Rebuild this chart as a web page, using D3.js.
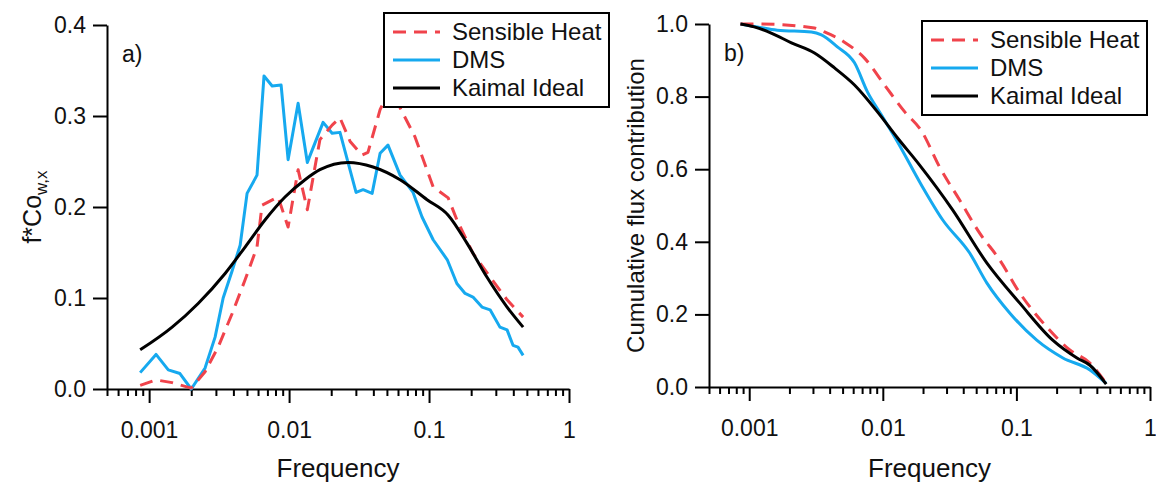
<!DOCTYPE html>
<html>
<head>
<meta charset="utf-8">
<script src="https://cdn.jsdelivr.net/npm/d3@7"></script>
<style>
body { margin: 0; background: #fff; }
svg { display: block; font-family: "Liberation Sans", Arial, sans-serif; }
</style>
</head>
<body>
<svg width="1156" height="484"></svg>
<script>
"use strict";

// panel a) co-spectra
var specFreqDMS = [0.000863, 0.00112, 0.00137, 0.00166, 0.00200, 0.00251, 0.00296, 0.00338, 0.00392, 0.00447,
    0.00501, 0.00590, 0.00662, 0.00757, 0.00877, 0.00984, 0.0116, 0.0135, 0.0175, 0.0203,
    0.0231, 0.0301, 0.0338, 0.0392, 0.0447, 0.0509, 0.0621, 0.0769, 0.0891, 0.107,
    0.135, 0.158, 0.181, 0.206, 0.239, 0.273, 0.321, 0.361, 0.398, 0.432, 0.47];
var specDMS = [0.018, 0.038, 0.021, 0.017, 0.0, 0.023, 0.057, 0.10, 0.13, 0.158,
    0.215, 0.235, 0.344, 0.333, 0.334, 0.252, 0.314, 0.249, 0.293, 0.281,
    0.282, 0.216, 0.219, 0.215, 0.259, 0.268, 0.235, 0.216, 0.189, 0.164,
    0.142, 0.116, 0.105, 0.101, 0.09, 0.087, 0.068, 0.065, 0.048, 0.046, 0.037];

var specFreqSH = [0.000863, 0.00112, 0.00146, 0.00200, 0.00251, 0.00311, 0.00392, 0.00485, 0.00590, 0.00641,
    0.00834, 0.00984, 0.0116, 0.0135, 0.0166, 0.0203, 0.0231, 0.0273, 0.0332, 0.0366,
    0.0447, 0.0526, 0.0621, 0.0794, 0.107, 0.137, 0.158, 0.206, 0.273, 0.361, 0.47];
var specSH = [0.004, 0.01, 0.007, 0.001, 0.019, 0.046, 0.083, 0.12, 0.156, 0.202,
    0.211, 0.178, 0.241, 0.197, 0.274, 0.29, 0.298, 0.272, 0.257, 0.26,
    0.307, 0.33, 0.309, 0.277, 0.222, 0.21, 0.186, 0.149, 0.123, 0.098, 0.079];

var specFreqKaimal = [0.000863, 0.00146, 0.00224, 0.00349, 0.00485, 0.00675, 0.00935, 0.0130, 0.0166, 0.0264,
    0.0398, 0.0621, 0.0968, 0.137, 0.187, 0.259, 0.361, 0.47];
var specKaimal = [0.043, 0.068, 0.094, 0.127, 0.156, 0.186, 0.211, 0.23, 0.241, 0.249,
    0.244, 0.23, 0.208, 0.191, 0.16, 0.123, 0.09, 0.068];

// panel b) cumulative flux
var cumFreqDMS = [0.00086, 0.00115, 0.00162, 0.00292, 0.00347, 0.00457, 0.00614, 0.00767, 0.00977, 0.0129,
    0.0192, 0.0281, 0.0447, 0.0600, 0.0891, 0.142, 0.223, 0.355, 0.47];
var cumDMS = [1.0, 0.992, 0.983, 0.978, 0.97, 0.937, 0.893, 0.813, 0.749, 0.675,
    0.56, 0.46, 0.369, 0.287, 0.204, 0.129, 0.08, 0.047, 0.01];

var cumFreqSH = [0.00086, 0.00123, 0.00308, 0.00366, 0.00516, 0.00729, 0.0103, 0.0146, 0.0195, 0.0266,
    0.0376, 0.0531, 0.0750, 0.106, 0.169, 0.251, 0.355, 0.47];
var cumSH = [1.0, 1.0, 0.989, 0.978, 0.95, 0.906, 0.832, 0.758, 0.705, 0.606,
    0.515, 0.424, 0.35, 0.259, 0.165, 0.102, 0.066, 0.01];

var cumFreqKaimal = [0.00086, 0.00109, 0.00146, 0.00207, 0.00308, 0.00435, 0.00614, 0.00912, 0.0129, 0.0188,
    0.0333, 0.0600, 0.106, 0.187, 0.284, 0.355, 0.47];
var cumKaimal = [1.0, 0.992, 0.975, 0.948, 0.92, 0.879, 0.832, 0.758, 0.686, 0.612,
    0.488, 0.342, 0.231, 0.129, 0.08, 0.06, 0.008];

var xMajorTicks = [0.001, 0.01, 0.1, 1];
var yTicksA = [0, 0.1, 0.2, 0.3, 0.4];
var yTicksB = [0, 0.2, 0.4, 0.6, 0.8, 1.0];
var seriesNames = ['Sensible Heat', 'DMS', 'Kaimal Ideal'];

var RED = '#f0434b';
var BLUE = '#16a9ef';
var BLACK = '#000';

var svg = d3.select('svg');

function zip(xs, ys) {
    return xs.map((x, i) => ({ f: x, v: ys[i] }));
}

// minor ticks 2..9 per decade inside the domain
function minorTicks(lo, hi) {
    var out = [];
    for (var k = -4; k <= 0; k++) {
        for (var d = 1; d <= 9; d++) {
            var t = d * Math.pow(10, k);
            if (t >= lo * 0.999 && t <= hi && xMajorTicks.indexOf(+t.toPrecision(3)) < 0) out.push(t);
        }
    }
    return out;
}

function drawPanel(p) {
    var x = d3.scaleLog().domain([0.0005, 1]).range([p.x0, p.x1]);
    var y = d3.scaleLinear().domain([0, p.yMax]).range([p.y0, p.y1]);
    var g = svg.append('g');

    // x axis: minor then major
    var minor = g.append('g')
        .attr('transform', `translate(0,${p.y0})`)
        .call(d3.axisBottom(x).tickValues(minorTicks(0.0005, 1)).tickSize(7).tickSizeOuter(0).tickFormat(''));
    minor.select('.domain').remove();

    g.append('g')
        .attr('transform', `translate(0,${p.y0})`)
        .call(d3.axisBottom(x).tickValues(xMajorTicks).tickSize(14).tickSizeOuter(0).tickPadding(19)
            .tickFormat(d3.format('')));

    g.append('g')
        .attr('transform', `translate(${p.x0},0)`)
        .call(d3.axisLeft(y).tickValues(p.yTicks).tickSize(14).tickSizeOuter(0).tickPadding(7)
            .tickFormat(d3.format('.1f')));

    g.selectAll('.domain, .tick line').attr('stroke', '#000').attr('stroke-width', 2);
    g.selectAll('.tick text').attr('font-size', 23).attr('fill', '#111')
        .attr('font-family', '"Liberation Sans", Arial, sans-serif');

    // axis titles
    g.append('text')
        .attr('x', (p.x0 + p.x1) / 2).attr('y', 477)
        .attr('text-anchor', 'middle').attr('font-size', 26).attr('fill', '#111')
        .text('Frequency');

    var yt = g.append('text')
        .attr('transform', `translate(${p.yTitleX},${(p.y0 + p.y1) / 2}) rotate(-90)`)
        .attr('text-anchor', 'middle').attr('font-size', p.yTitleSize).attr('fill', '#111');
    p.yTitle(yt);

    g.append('text')
        .attr('x', p.x0 + 15).attr('y', p.y1 + 37)
        .attr('font-size', 23).attr('fill', '#111')
        .text(p.tag);

    // series
    var line = d3.line().x(d => x(d.f)).y(d => y(d.v));
    p.series.forEach(s => {
        g.append('path')
            .datum(zip(s.fx, s.vy))
            .attr('fill', 'none')
            .attr('stroke', s.color)
            .attr('stroke-width', 3)
            .attr('stroke-linejoin', 'round')
            .attr('stroke-dasharray', s.dash || null)
            .attr('d', line.curve(s.smooth ? d3.curveMonotoneX : d3.curveLinear));
    });

    // legend
    var lg = g.append('g').attr('transform', `translate(${p.legX},${p.legY})`);
    lg.append('rect')
        .attr('width', 225).attr('height', 94)
        .attr('fill', '#fff').attr('stroke', '#000').attr('stroke-width', 2);
    var legSeries = [p.series[1], p.series[0], p.series[2]];
    seriesNames.forEach((name, i) => {
        var s = legSeries[i];
        var cy = 19 + i * 28;
        lg.append('line')
            .attr('x1', 9).attr('x2', 56).attr('y1', cy).attr('y2', cy)
            .attr('stroke', s.color).attr('stroke-width', 3)
            .attr('stroke-dasharray', s.dash || null);
        lg.append('text')
            .attr('x', 68).attr('y', cy + 8)
            .attr('font-size', 24).attr('fill', '#111')
            .text(name);
    });
}

drawPanel({
    x0: 107, x1: 569, y0: 389, y1: 25, yMax: 0.4, yTicks: yTicksA,
    tag: 'a)', legX: 384, legY: 13,
    yTitleX: 41, yTitleSize: 25,
    yTitle: t => {
        t.append('tspan').text('f*Co');
        t.append('tspan').attr('font-size', 17).attr('dy', 6).text('w,x');
    },
    series: [
        { fx: specFreqDMS, vy: specDMS, color: BLUE },
        { fx: specFreqSH, vy: specSH, color: RED, dash: '13,8' },
        { fx: specFreqKaimal, vy: specKaimal, color: BLACK, smooth: true }
    ]
});

drawPanel({
    x0: 709, x1: 1150, y0: 387, y1: 24, yMax: 1.0, yTicks: yTicksB,
    tag: 'b)', legX: 922, legY: 21,
    yTitleX: 644, yTitleSize: 24,
    yTitle: t => t.text('Cumulative flux contribution'),
    series: [
        { fx: cumFreqDMS, vy: cumDMS, color: BLUE, smooth: true },
        { fx: cumFreqSH, vy: cumSH, color: RED, dash: '13,8', smooth: true },
        { fx: cumFreqKaimal, vy: cumKaimal, color: BLACK, smooth: true }
    ]
});
</script>
</body>
</html>
